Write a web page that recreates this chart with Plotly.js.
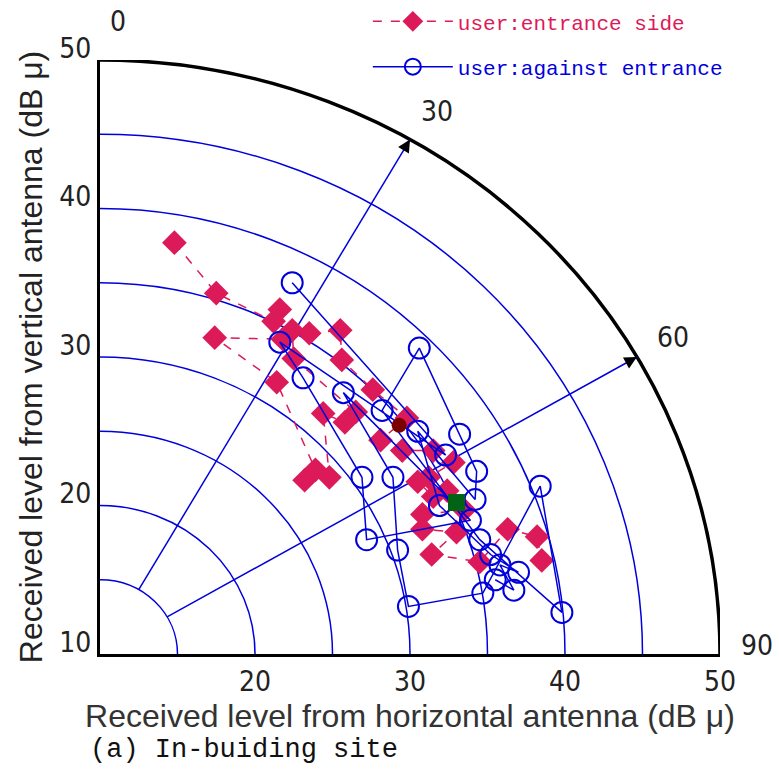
<!DOCTYPE html>
<html>
<head>
<meta charset="utf-8">
<script src="https://cdn.plot.ly/plotly-3.0.1.min.js"></script>
<style>html,body{margin:0;padding:0;background:#fff;}#chart{width:779px;height:778px;}</style>
</head>
<body>
<div id="chart"></div>
<script>
// ---- data ----
const entranceX = [14.8,17.5,21.2,21.6,21.8,17.4,21.4,23.9,23.2,24.8,24.4,25.8,26.5,22.5,22.4,23.5,25.5,25.6,27.6,29.8,28.1,29.5,31.5,32.8,31.2,30.5,31.5,32.4,33.5,30.8,30.8,33.0,31.4,34.5,36.3,38.2,38.5];
const entranceY = [37.7,34.3,32.4,33.2,31.2,31.3,28.3,22.4,21.7,21.9,26.2,25.6,26.3,29.9,31.8,31.6,31.8,29.8,27.8,25.9,24.4,23.7,23.7,22.9,21.9,21.6,20.6,21.0,19.7,19.4,18.4,18.2,16.7,16.2,18.4,17.9,16.3];
const againstX = [22.4,32.3,21.6,23.1,26.9,27.2,33.9,25.7,28.9,29.2,29.9,34.7,38.4,39.8,34.5,28.2,30.6,33.2,34.3,34.2,30.5,31.9,35.2,37.0,35.8,36.7,35.5];
const againstY = [35.0,23.4,31.0,28.6,21.9,17.7,19.0,27.6,21.9,17.0,13.2,14.1,21.3,12.8,17.7,26.4,30.6,24.8,22.3,20.4,25.0,20.0,16.7,15.5,16.0,14.3,15.0];
const meanEntrance = [29.3, 25.4];
const meanAgainst = [33.0, 20.2];
const seriesNames = ['user:entrance side', 'user:against entrance'];
const xTicks = [20,30,40,50];
const yTicks = [10,20,30,40,50];
const angleLabels = ['0','30','60','90'];
const ringRadii = [5,10,15,20,25,30,35];
const outerRadius = 40;
const spokeAngles = [30,60];

// ---- styling ----
const PINK = '#dc1a5a';
const BLUE = '#0000dd';
const ORIGIN = 10;

const traces = [];
spokeAngles.forEach(a => {
  const t = a*Math.PI/180;
  traces.push({
    x: [ORIGIN + 5*Math.sin(t), ORIGIN + outerRadius*Math.sin(t)],
    y: [ORIGIN + 5*Math.cos(t), ORIGIN + outerRadius*Math.cos(t)],
    mode: 'lines', line: {color: BLUE, width: 1.5},
    showlegend: false, hoverinfo: 'skip'
  });
});
traces.push({
  x: entranceX, y: entranceY, name: '<span style="color:'+PINK+'">'+seriesNames[0]+'</span>',
  mode: 'lines+markers', legendgroup: 'a',
  line: {color: PINK, width: 1.5, dash: 'dash'},
  marker: {symbol: 'diamond', size: 19, color: PINK}
});
traces.push({
  x: againstX, y: againstY, name: '<span style="color:'+BLUE+'">'+seriesNames[1]+'</span>',
  mode: 'lines+markers', legendgroup: 'b',
  line: {color: BLUE, width: 1.5},
  marker: {symbol: 'circle-open', size: 21, color: BLUE, line: {width: 2, color: BLUE}}
});
traces.push({
  x: [meanEntrance[0]], y: [meanEntrance[1]], mode: 'markers', showlegend: false,
  marker: {symbol: 'circle', size: 15, color: '#7a0000'}
});
traces.push({
  x: [meanAgainst[0]], y: [meanAgainst[1]], mode: 'markers', showlegend: false,
  marker: {symbol: 'square', size: 17, color: '#006414'}
});

const shapes = ringRadii.map(r => ({
  type: 'circle', xref: 'x', yref: 'y', layer: 'below',
  x0: ORIGIN - r, x1: ORIGIN + r, y0: ORIGIN - r, y1: ORIGIN + r,
  line: {color: BLUE, width: 1.5}
}));
shapes.push({
  type: 'circle', xref: 'x', yref: 'y', layer: 'below',
  x0: ORIGIN - outerRadius, x1: ORIGIN + outerRadius, y0: ORIGIN - outerRadius, y1: ORIGIN + outerRadius,
  line: {color: '#000', width: 3.5}
});

const labFont = {family: 'Liberation Sans Narrow, DejaVu Sans Condensed, Liberation Sans, sans-serif', size: 28, color: '#222'};
const annPos = [[0.029,1.064],[0.5435,0.9125],[0.924,0.532],[1.06,0.015]];
const annotations = angleLabels.map((t,i) => ({
  text: t, xref: 'paper', yref: 'paper', x: annPos[i][0], y: annPos[i][1],
  xanchor: 'center', yanchor: 'middle',
  showarrow: false, font: labFont
}));
spokeAngles.forEach(a => {
  const t = a*Math.PI/180;
  annotations.push({
    x: ORIGIN + outerRadius*Math.sin(t), y: ORIGIN + outerRadius*Math.cos(t),
    ax: ORIGIN + 39.1*Math.sin(t), ay: ORIGIN + 39.1*Math.cos(t),
    xref: 'x', yref: 'y', axref: 'x', ayref: 'y', text: '',
    showarrow: true, arrowhead: 2, arrowsize: 1, arrowwidth: 2.5, arrowcolor: '#000'
  });
});
annotations.push({
  text: '(a) In-buiding site', xref: 'paper', yref: 'paper', x: -0.019, y: -0.1616,
  xanchor: 'left', yanchor: 'middle', showarrow: false,
  font: {family: 'Liberation Mono, DejaVu Sans Mono, monospace', size: 27, color: '#111'}
});

const layout = {
  width: 779, height: 778,
  margin: {l: 100, r: 59, t: 60, b: 124, autoexpand: false},
  paper_bgcolor: '#fff', plot_bgcolor: '#fff',
  showlegend: true,
  legend: {
    x: 0.432, y: 1.099, xanchor: 'left', yanchor: 'top',
    bgcolor: 'rgba(0,0,0,0)', itemwidth: 80, tracegroupgap: 15, traceorder: 'grouped',
    font: {family: 'Liberation Mono, DejaVu Sans Mono, monospace', size: 21}
  },
  xaxis: {
    range: [10, 50], tickvals: xTicks, ticktext: xTicks.map(String),
    showgrid: false, zeroline: false, showline: true, linecolor: '#000', linewidth: 3,
    ticks: '', tickfont: labFont, automargin: false,
    title: {text: 'Received level from horizontal antenna (dB μ)', standoff: 8,
      font: {family: 'Liberation Sans, Arial, sans-serif', size: 32, color: '#333'}}
  },
  yaxis: {
    range: [10, 50], tickvals: yTicks, ticktext: yTicks.map(String),
    showgrid: false, zeroline: false, showline: true, linecolor: '#000', linewidth: 3,
    ticks: '', tickfont: labFont, automargin: false, ticklabelshift: -12,
    title: {text: 'Received level from vertical antenna (dB μ)', standoff: 8,
      font: {family: 'Liberation Sans, Arial, sans-serif', size: 32, color: '#222'}}
  },
  shapes: shapes,
  annotations: annotations
};

Plotly.newPlot('chart', traces, layout, {displayModeBar: false, staticPlot: true});
</script>
</body>
</html>
